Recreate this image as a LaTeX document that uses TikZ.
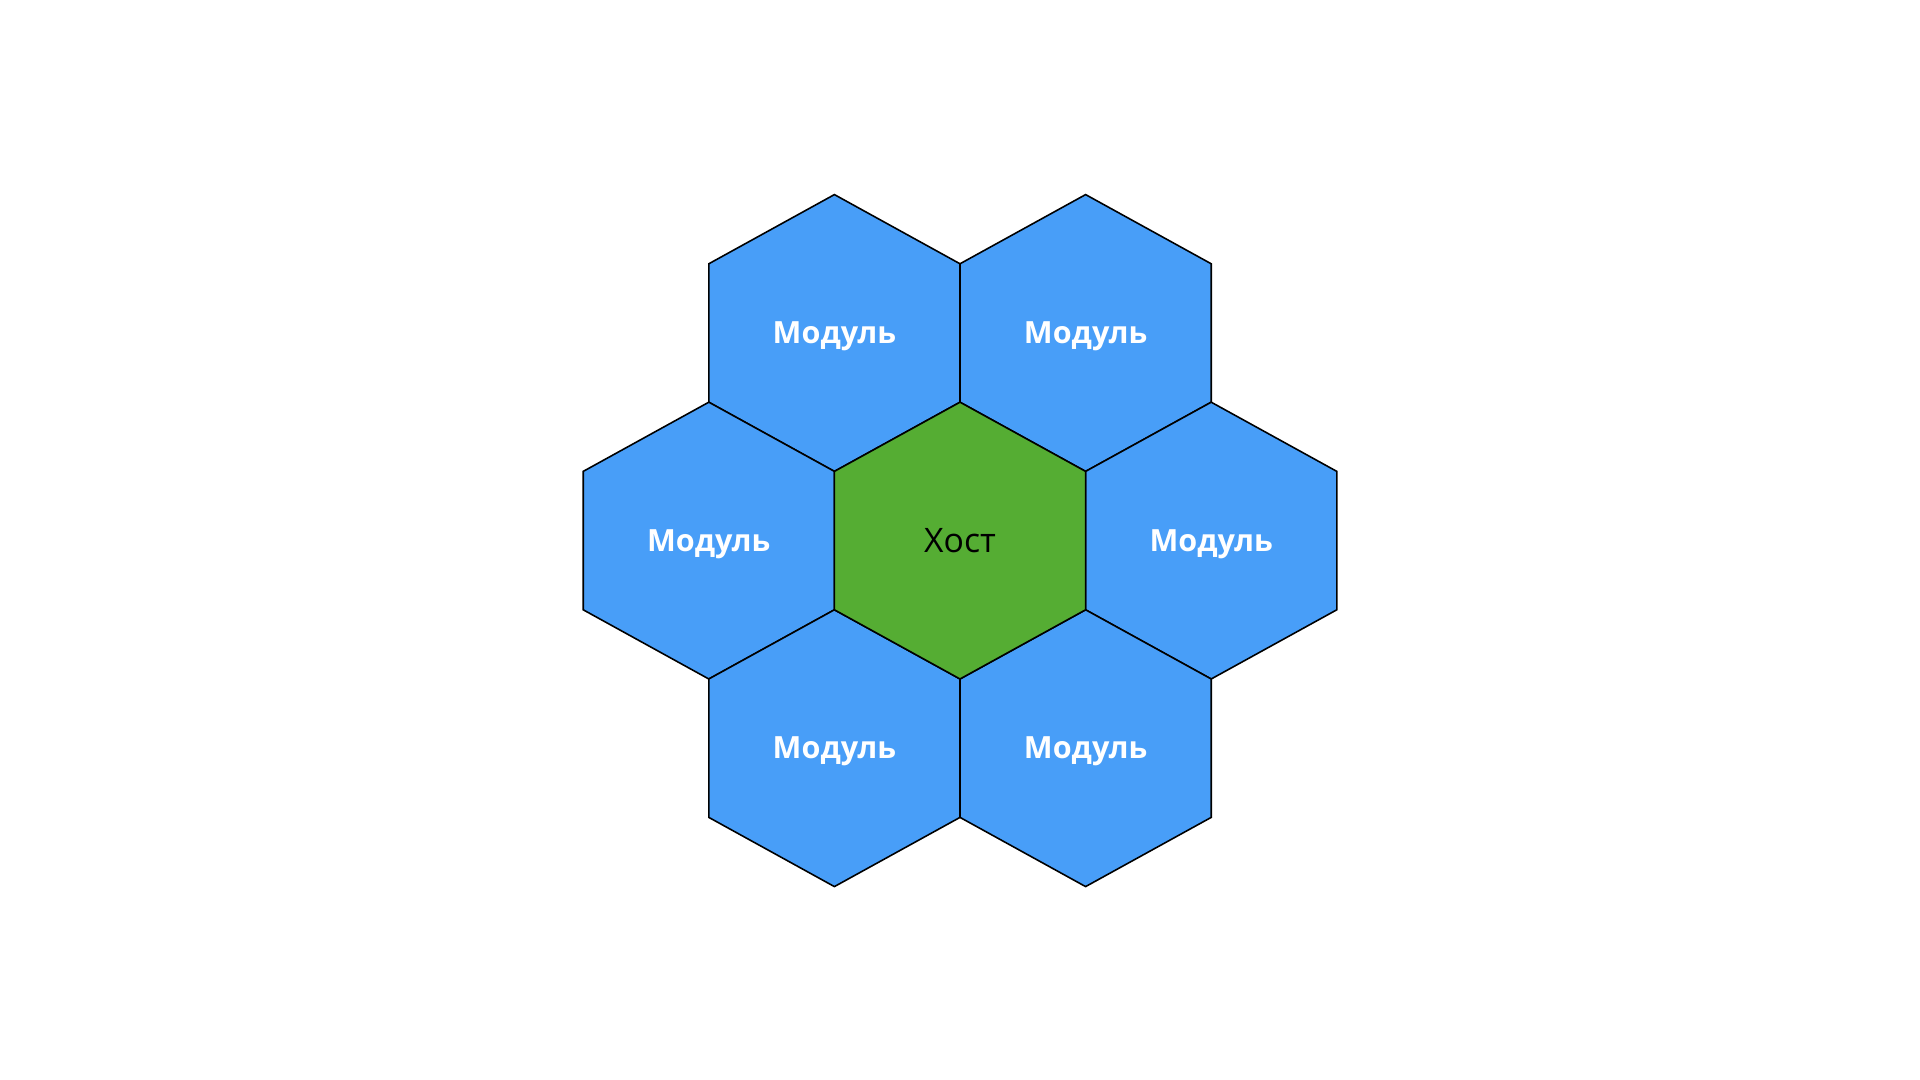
\documentclass[tikz,border=0pt]{standalone}
\usepackage{fontspec}
\setmainfont{Open Sans}
\usetikzlibrary{calc}
\definecolor{modblue}{RGB}{72,158,248}
\definecolor{hostgreen}{RGB}{85,173,51}
% pointy-top cell, slightly wider than regular
\newcommand{\hexcell}[2]{%
  \draw[hexline,fill=#2] ($(#1)+(0,1.384)$) -- ++(1.256,-0.692) -- ++(0,-1.384)
    -- ++(-1.256,-0.692) -- ++(-1.256,0.692) -- ++(0,1.384) -- cycle;}

\begin{document}
\begin{tikzpicture}[hexline/.style={draw=black,line width=0.45pt,line join=miter},
  modtext/.style={text=white,yshift=-1pt,font=\fontsize{8.7}{11}\selectfont\bfseries},
  hosttext/.style={text=black,font=\fontsize{9.6}{11}\selectfont}]
\useasboundingbox (0,0) rectangle (19.2,10.8);
% host in the middle, six modules round it
\coordinate (host) at (9.6,5.394);
\foreach \name/\dx/\dy in {tl/-1.256/2.076,tr/1.256/2.076,l/-2.512/0,%
  r/2.512/0,bl/-1.256/-2.076,br/1.256/-2.076}
  \coordinate (\name) at ($(host)+(\dx,\dy)$);
\foreach \name in {tl,tr,l,r,bl,br}{
  \hexcell{\name}{modblue}
  \node[modtext] (lab-\name) at (\name) {Модуль};
}
\hexcell{host}{hostgreen}
\node[hosttext] (lab-host) at (host) {Хост};
\end{tikzpicture}
\end{document}
